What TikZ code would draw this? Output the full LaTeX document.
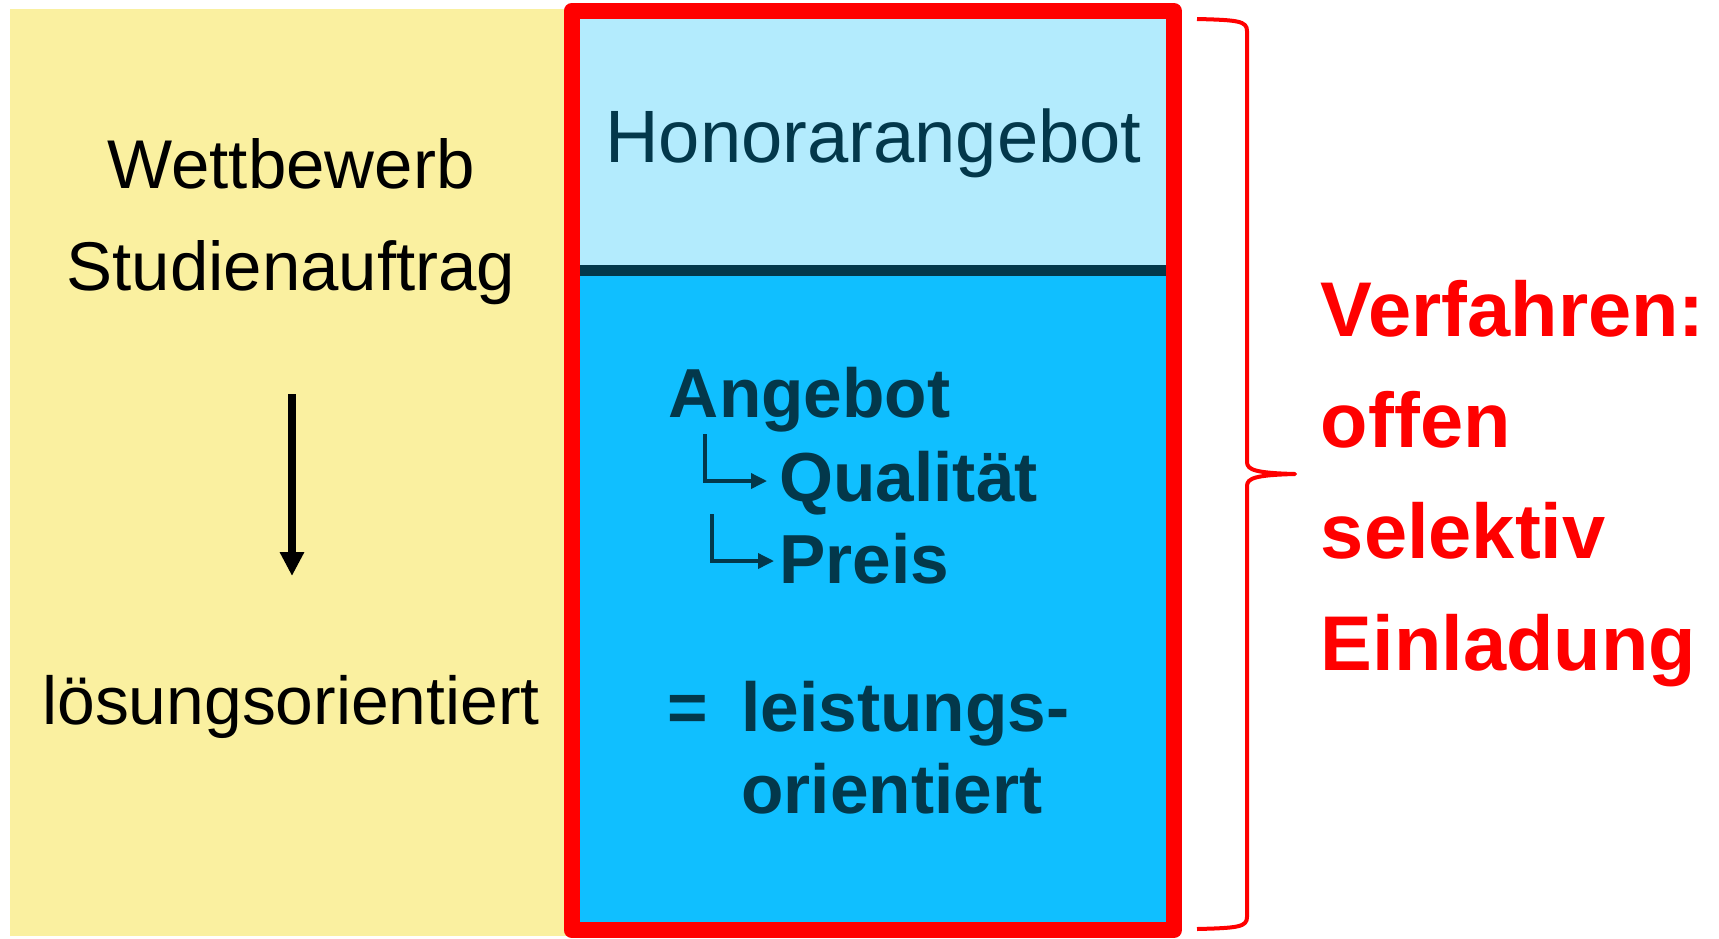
\documentclass[tikz,border=0pt]{standalone}
\usepackage{fontspec}
\setmainfont{Liberation Sans}
\usepackage{tikz}
\usetikzlibrary{arrows.meta,positioning}

\definecolor{paleyellow}{RGB}{250,240,160}
\definecolor{paleblue}{RGB}{179,235,253}
\definecolor{skyblue}{RGB}{16,191,255}
\definecolor{navy}{RGB}{3,56,75}

\begin{document}
\begin{tikzpicture}[x=0.5pt,y=-0.5pt,
        lefttext/.style={inner sep=0pt,font=\fontsize{34.5}{40}\selectfont,text height=26pt,text depth=7pt},
        bluetext/.style={inner sep=0pt,text=navy,font=\bfseries\fontsize{34.7}{40}\selectfont,text width=170pt,align=left,text height=26pt,text depth=7pt},
        redtext/.style={inner sep=0pt,text=red,font=\bfseries\fontsize{38.8}{45}\selectfont,text width=200pt,align=left,text height=29pt,text depth=8pt},
        bigarrow/.style={line width=4pt,-{Triangle[width=11.5pt,length=12pt]}},
        smallarrow/.style={draw=navy,line width=1.75pt,-{Triangle[width=7.5pt,length=8pt]}},
        bracestyle/.style={draw=red,line width=2pt,line join=round}]
        \useasboundingbox (0,0) rectangle (1719,938);
        \fill[white] (0,0) rectangle (1719,938);
        
        % left column
        \fill[paleyellow] (10,9) rectangle (572,936);
        \node[lefttext,anchor=base] (wett) at (291,188) {Wettbewerb};
        \node[lefttext,below of=wett,node distance=51pt] (studien) {Studienauftrag};
        \node[lefttext,font=\fontsize{33.9}{40}\selectfont,anchor=base] (loesung) at (291,724) {lösungsorientiert};
        \coordinate (a1) at (292,394);
        \coordinate (a2) at (292,576);
        \draw[bigarrow] (a1) -- (a2);
        
        % middle column
        \fill[paleblue] (571,11) rectangle (1174,270);
        \fill[skyblue] (571,270) rectangle (1174,930);
        \draw[navy,line width=5.5pt] (579,270.5) -- (1166,270.5);
        \draw[red,line width=8pt,line join=round] (571.5,11) rectangle (1174,930);
        \node[inner sep=0pt,text=navy,font=\fontsize{37.1}{44}\selectfont,anchor=base] (honorar) at (873.5,162) {Honorarangebot};
        
        \node[bluetext,anchor=base west] (angebot) at (668.5,417.5) {Angebot};
        \node[bluetext,anchor=base west] (qual) at (779,501.5) {Qualität};
        \node[bluetext,below of=qual,node distance=41pt] (preis) {Preis};
        \coordinate (k1) at (705,434);
        \coordinate (k2) at (767,481);
        \coordinate (k3) at (712,514);
        \coordinate (k4) at (774,561);
        \draw[smallarrow] (k1) |- (k2);
        \draw[smallarrow] (k3) |- (k4);
        
        \node[bluetext,anchor=base west] (gleich) at (667,731.5) {=};
        \node[bluetext,anchor=base west] (leist) at (741,731.5) {leistungs-};
        \node[bluetext,below of=leist,node distance=41pt] (orient) {orientiert};
        
        % brace and right column
        \draw[bracestyle] (1197,19) .. controls (1238,20) and (1247,21) .. (1247,31) -- (1247,462)
            .. controls (1247,470) and (1256,473) .. (1295,474)
            .. controls (1256,475) and (1247,478) .. (1247,486) -- (1247,917)
            .. controls (1247,927) and (1238,928) .. (1197,929);
        \node[redtext,anchor=base west] (verf) at (1320.5,336) {Verfahren:};
        \node[redtext,below of=verf,node distance=55.7pt] (offen) {offen};
        \node[redtext,below of=offen,node distance=55.7pt] (selektiv) {selektiv};
        \node[redtext,below of=selektiv,node distance=55.7pt] (einladung) {Einladung};
    \end{tikzpicture}
\end{document}
